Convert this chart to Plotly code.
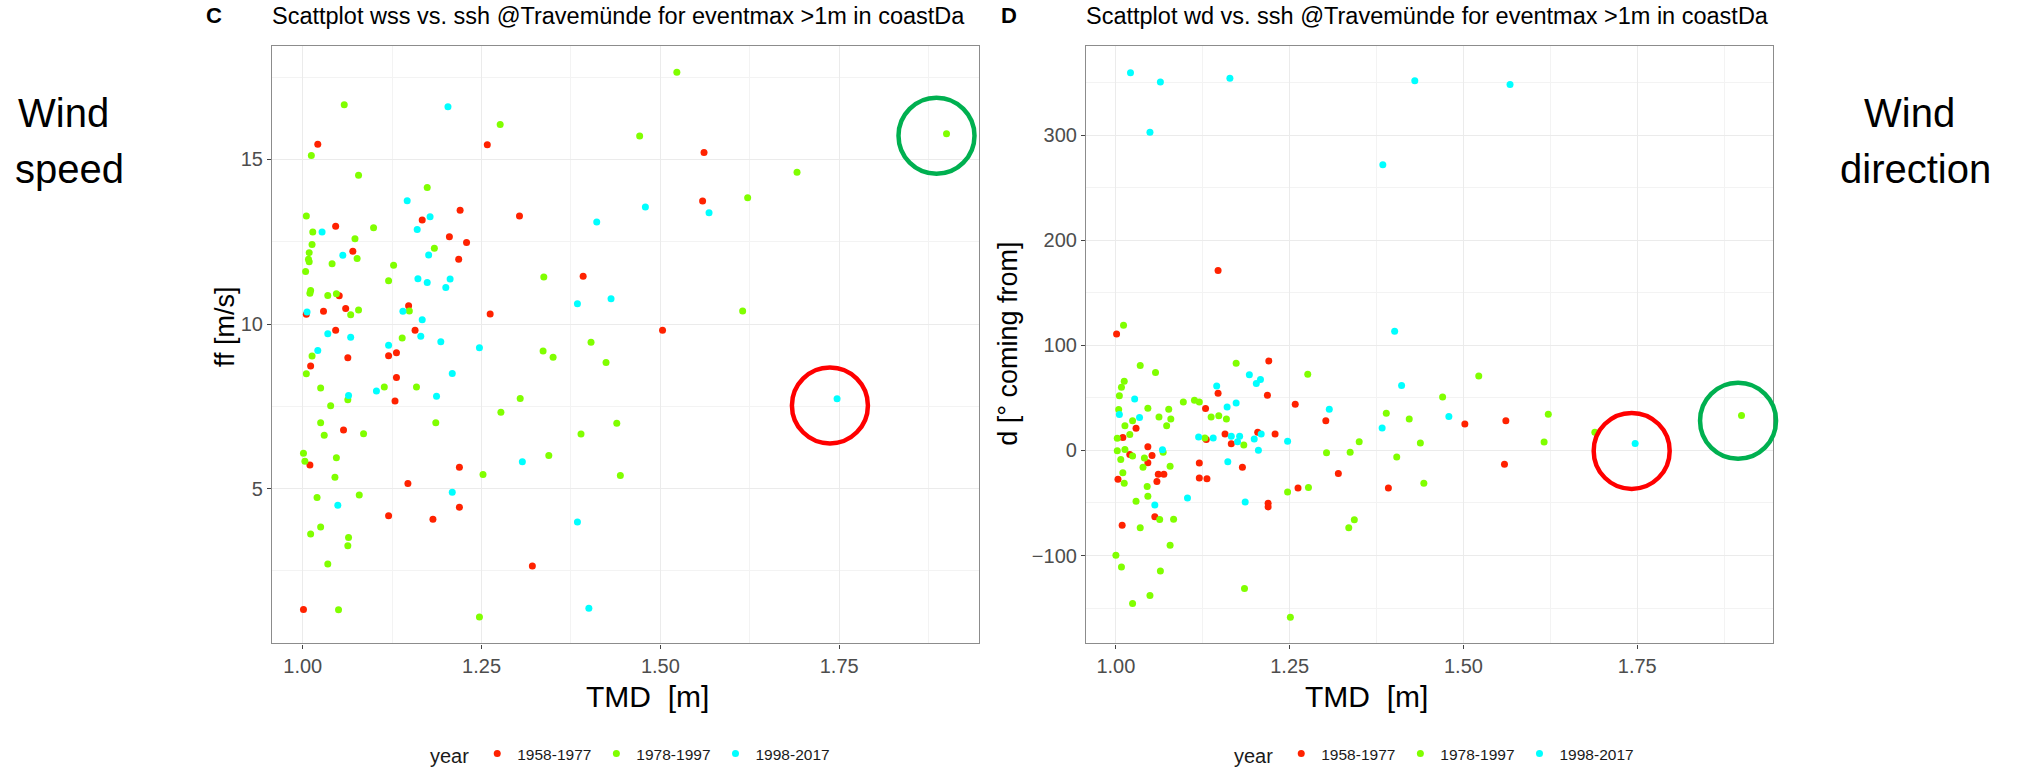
import plotly.graph_objects as go

W, H = 2017, 773

# ---------------- Panel C: wind speed (ff) vs. TMD ----------------
c_red_tmd = [1.021, 1.258, 1.561, 1.559, 1.220, 1.303, 1.167, 1.046, 1.205, 1.229,
             1.070, 1.218, 1.392, 1.051, 1.060, 1.029, 1.005, 1.148, 1.262, 1.046,
             1.157, 1.503, 1.063, 1.120, 1.131, 1.011, 1.131, 1.129, 1.057, 1.010,
             1.219, 1.147, 1.219, 1.120, 1.182, 1.321, 1.001]
c_red_ff = [15.46, 15.45, 15.21, 13.74, 13.46, 13.28, 13.16, 12.97, 12.65, 12.48,
            12.21, 11.97, 11.45, 10.86, 10.47, 10.39, 10.30, 10.56, 10.31, 9.81,
            9.81, 9.81, 8.98, 9.04, 9.13, 8.73, 8.38, 7.66, 6.78, 5.72,
            5.65, 5.16, 4.44, 4.18, 4.07, 2.65, 1.33]

c_green_tmd = [1.058, 1.012, 1.078, 1.174, 1.276, 1.471, 1.523, 1.005, 1.014, 1.013,
               1.009, 1.008, 1.009, 1.004, 1.073, 1.099, 1.076, 1.041, 1.127, 1.120,
               1.184, 1.011, 1.010, 1.035, 1.047, 1.078, 1.067, 1.149, 1.139, 1.337,
               1.336, 1.350, 1.403, 1.615, 1.013, 1.005, 1.025, 1.039, 1.025, 1.030,
               1.001, 1.003, 1.047, 1.045, 1.020, 1.079, 1.025, 1.011, 1.064, 1.063,
               1.035, 1.050, 1.247, 1.063, 1.085, 1.114, 1.159, 1.186, 1.277, 1.304,
               1.344, 1.252, 1.424, 1.439, 1.389, 1.444, 1.691, 1.622, 1.900]
c_green_ff = [16.66, 15.12, 14.52, 14.15, 16.06, 15.71, 17.65, 13.28, 12.80, 12.42,
              12.17, 11.97, 11.89, 11.60, 12.59, 12.93, 11.99, 11.83, 11.79, 11.32,
              12.30, 11.02, 10.94, 10.87, 10.92, 10.43, 10.28, 10.40, 9.58, 11.43,
              9.18, 8.99, 9.45, 10.40, 9.03, 8.49, 8.06, 7.52, 7.00, 6.62,
              6.08, 5.83, 5.94, 5.35, 4.73, 4.81, 3.84, 3.62, 3.52, 3.27,
              2.71, 1.32, 1.10, 7.70, 6.67, 8.09, 8.09, 7.00, 7.32, 7.74,
              6.01, 5.43, 8.83, 6.99, 6.66, 5.40, 14.61, 13.84, 15.78]

c_cyan_tmd = [1.203, 1.146, 1.178, 1.160, 1.027, 1.056, 1.176, 1.161, 1.174, 1.206,
              1.200, 1.479, 1.568, 1.411, 1.384, 1.431, 1.006, 1.140, 1.167, 1.035,
              1.067, 1.165, 1.120, 1.193, 1.247, 1.021, 1.209, 1.103, 1.064, 1.187,
              1.307, 1.209, 1.049, 1.384, 1.400, 1.747]
c_cyan_ff = [16.60, 13.75, 13.26, 12.87, 12.80, 12.09, 12.10, 11.38, 11.26, 11.37,
             11.11, 13.56, 13.38, 13.10, 10.62, 10.77, 10.37, 10.39, 10.13, 9.71,
             9.60, 9.63, 9.36, 9.46, 9.28, 9.20, 8.50, 7.97, 7.83, 7.81,
             5.82, 4.89, 4.50, 3.99, 1.37, 7.73]

# ---------------- Panel D: wind direction (d) vs. TMD ----------------
d_red_tmd = [1.001, 1.147, 1.220, 1.147, 1.218, 1.258, 1.129, 1.029, 1.010, 1.302,
             1.157, 1.204, 1.229, 1.166, 1.130, 1.046, 1.020, 1.052, 1.046, 1.120,
             1.061, 1.069, 1.059, 1.003, 1.120, 1.131, 1.182, 1.320, 1.262, 1.392,
             1.219, 1.219, 1.056, 1.009, 1.502, 1.561, 1.559]
d_red_dir = [111.0, 171.3, 85.2, 54.4, 52.5, 44.0, 39.9, 21.1, 12.3, 28.3,
             15.7, 17.3, 15.7, 6.3, 10.4, 3.5, -3.8, -4.7, -11.6, -11.9,
             -22.6, -22.6, -29.6, -27.4, -26.1, -27.0, -16.0, -22.0, -35.8, -35.8,
             -50.3, -53.8, -63.2, -71.1, 25.1, 28.3, -13.2]

d_green_tmd = [1.011, 1.035, 1.057, 1.173, 1.276, 1.012, 1.008, 1.005, 1.004, 1.046,
               1.097, 1.113, 1.120, 1.076, 1.079, 1.062, 1.073, 1.024, 1.013, 1.020,
               1.002, 1.137, 1.148, 1.159, 1.128, 1.184, 1.002, 1.013, 1.007, 1.024,
               1.041, 1.039, 1.068, 1.078, 1.010, 1.012, 1.045, 1.046, 1.029, 1.063,
               1.083, 1.035, 1.078, 1.000, 1.008, 1.064, 1.049, 1.024, 1.185, 1.251,
               1.247, 1.277, 1.303, 1.337, 1.350, 1.335, 1.343, 1.389, 1.404, 1.422,
               1.522, 1.470, 1.622, 1.438, 1.616, 1.689, 1.443, 1.900]
d_green_dir = [119.2, 80.8, 74.2, 83.0, 72.6, 66.0, 60.1, 52.2, 39.0, 40.3,
               46.2, 47.8, 46.2, 39.3, 29.9, 31.8, 23.6, 28.3, 23.6, 15.1,
               11.6, 31.8, 33.0, 29.9, 11.9, 5.3, -0.3, 0.9, -8.5, -5.3,
               -7.2, -16.0, -1.6, -15.1, -21.1, -31.1, -34.3, -43.7, -48.4, -65.7,
               -65.4, -73.6, -90.3, -99.7, -111.0, -114.8, -138.1, -145.6, -131.4, -158.8,
               -39.6, -35.2, -2.2, -1.6, 8.2, -73.6, -66.0, 35.5, -6.3, 29.9,
               71.0, 50.9, 34.5, 7.2, 8.1, 17.3, -31.1, 33.3]

d_cyan_tmd = [1.021, 1.064, 1.164, 1.049, 1.384, 1.401, 1.430, 1.567, 1.145, 1.192,
              1.202, 1.208, 1.173, 1.160, 1.027, 1.034, 1.005, 1.119, 1.140, 1.166,
              1.178, 1.175, 1.199, 1.209, 1.205, 1.247, 1.067, 1.161, 1.103, 1.056,
              1.186, 1.307, 1.411, 1.383, 1.479, 1.747]
d_cyan_dir = [359.7, 350.9, 354.3, 303.1, 272.0, 113.5, 351.9, 348.4, 61.3, 72.0,
              63.8, 67.6, 45.3, 41.5, 49.1, 31.4, 34.3, 12.9, 11.9, 13.5,
              13.5, 8.2, 11.0, 15.7, 0.3, 8.8, 0.6, -10.7, -45.3, -51.9,
              -49.1, 39.3, 61.9, 21.4, 32.4, 6.6]

periods = ["1958-1977", "1978-1997", "1998-2017"]
colors = ["#FF2200", "#80FF00", "#00FFFF"]

# Highlight rings (centre in data units): (panel, tmd, value, colour)
rings = [("C", 1.886, 15.72, "#00B050"), ("C", 1.737, 7.53, "#FF0000"),
         ("D", 1.742, -0.4, "#FF0000"), ("D", 1.895, 28.3, "#00B050")]

# ---------------- geometry ----------------
xr = [0.957, 1.945]
c_yr = [0.30, 18.46]
d_yr = [-183.7, 385.5]
c_xdom = [272 / W, 978.7 / W]
d_xdom = [1086 / W, 1772.8 / W]
ydom = [1 - 649.3 / H, 1 - 46 / H]

BASE = "Liberation Sans, Arial, sans-serif"

fig = go.Figure()

panels = [
    ("x", "y", "legend", [(c_red_tmd, c_red_ff), (c_green_tmd, c_green_ff), (c_cyan_tmd, c_cyan_ff)]),
    ("x2", "y2", "legend2", [(d_red_tmd, d_red_dir), (d_green_tmd, d_green_dir), (d_cyan_tmd, d_cyan_dir)]),
]
for xa, ya, lg, series in panels:
    for (xs, ys), name, col in zip(series, periods, colors):
        fig.add_trace(go.Scatter(
            x=xs, y=ys, mode="markers", name=name, xaxis=xa, yaxis=ya, legend=lg,
            marker=dict(color=col, size=7, line=dict(width=0)),
        ))

axis_common = dict(
    showgrid=True, gridcolor="#EBEBEB", gridwidth=1.2,
    zeroline=False, showline=True, mirror=True, linecolor="#8C8C8C", linewidth=1.2,
    ticks="outside", ticklen=4, tickwidth=1, tickcolor="#444444",
    tickfont=dict(family=BASE, size=20, color="#4D4D4D"),
    fixedrange=True,
)
xaxis_common = dict(axis_common, range=xr, tick0=1.0, dtick=0.25, tickformat=".2f",
                    minor=dict(dtick=0.125, tick0=1.0, showgrid=True, gridcolor="#F3F3F3", gridwidth=0.8))

fig.update_layout(
    width=W, height=H, margin=dict(l=0, r=0, t=0, b=0),
    paper_bgcolor="white", plot_bgcolor="white",
    xaxis=dict(xaxis_common, domain=c_xdom, anchor="y"),
    yaxis=dict(axis_common, domain=ydom, range=c_yr, anchor="x", tick0=5, dtick=5,
               minor=dict(dtick=2.5, tick0=0, showgrid=True, gridcolor="#F3F3F3", gridwidth=0.8)),
    xaxis2=dict(xaxis_common, domain=d_xdom, anchor="y2"),
    yaxis2=dict(axis_common, domain=ydom, range=d_yr, anchor="x2", tick0=0, dtick=100,
                minor=dict(dtick=50, tick0=0, showgrid=True, gridcolor="#F3F3F3", gridwidth=0.8)),
    showlegend=True,
)

legend_common = dict(
    orientation="h", yanchor="middle", y=1 - 762 / H, xanchor="left",
    bgcolor="rgba(0,0,0,0)", borderwidth=0, itemwidth=30,
    title=dict(text="year", font=dict(family=BASE, size=20, color="#1A1A1A")),
    font=dict(family=BASE, size=15.5, color="#1A1A1A"),
)
fig.update_layout(legend=dict(legend_common, x=428 / W), legend2=dict(legend_common, x=1232 / W))


def to_paper(panel, xv, yv):
    xd = c_xdom if panel == "C" else d_xdom
    yrng = c_yr if panel == "C" else d_yr
    px = xd[0] + (xv - xr[0]) / (xr[1] - xr[0]) * (xd[1] - xd[0])
    py = ydom[0] + (yv - yrng[0]) / (yrng[1] - yrng[0]) * (ydom[1] - ydom[0])
    return px, py


for panel, xv, yv, col in rings:
    px, py = to_paper(panel, xv, yv)
    fig.add_shape(type="circle", xref="paper", yref="paper",
                  xsizemode="pixel", ysizemode="pixel", xanchor=px, yanchor=py,
                  x0=-38, x1=38, y0=-38, y1=38, line=dict(color=col, width=4.5))

ann = []


def text(x, y, s, size, color="#000000", xanchor="center", textangle=0):
    ann.append(dict(x=x / W, y=1 - y / H, xref="paper", yref="paper", text=s, showarrow=False,
                    xanchor=xanchor, yanchor="middle", textangle=textangle,
                    font=dict(family=BASE, size=size, color=color)))


# Panel tags and titles
text(204, 16, "<b>C</b>", 22, xanchor="left")
text(270, 16, "Scattplot wss vs. ssh @Travemünde for eventmax >1m in coastDa", 23.5, xanchor="left")
text(999, 16, "<b>D</b>", 22, xanchor="left")
text(1084, 16, "Scattplot wd vs. ssh @Travemünde for eventmax >1m in coastDa", 23.5, xanchor="left")

# Axis titles
xtitle = "TMD\u00a0\u00a0[m]"
text(647, 703, xtitle, 30)
text(1366, 703, xtitle, 30)
text(225, 330, "ff [m/s]", 27, textangle=-90)
text(1008, 347, "d [° coming from]", 27, textangle=-90)

# Side labels
text(64, 114, "Wind", 40)
text(69, 171, "speed", 40)
text(1909, 114, "Wind", 40)
text(1915, 171, "direction", 40)

fig.update_layout(annotations=ann)

fig.write_html("out.html")
